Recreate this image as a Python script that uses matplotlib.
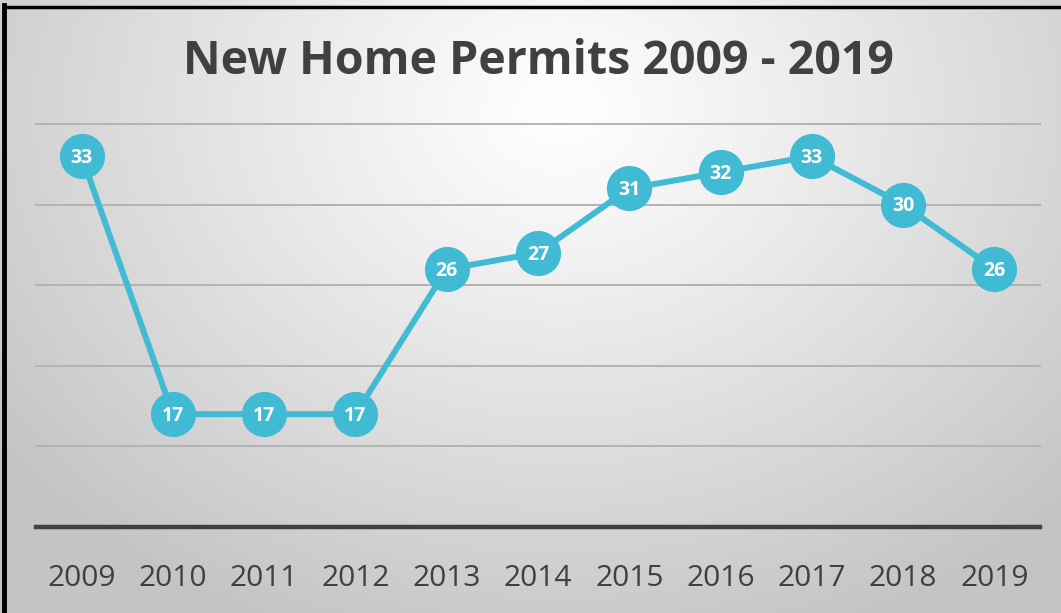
import numpy as np
import matplotlib
matplotlib.use("Agg")
import matplotlib.pyplot as plt
from matplotlib.lines import Line2D

years = ["2009", "2010", "2011", "2012", "2013", "2014", "2015", "2016", "2017", "2018", "2019"]
permits = [33, 17, 17, 17, 26, 27, 31, 32, 33, 30, 26]
title = "New Home Permits 2009 - 2019"

W, H = 1061, 613
fig = plt.figure(figsize=(W / 100, H / 100), dpi=100)

# background radial gradient
bg = fig.add_axes([0, 0, 1, 1], zorder=-10)
yy, xx = np.mgrid[0:H, 0:W]
cx, cy = 560, 110
r = np.sqrt(((xx - cx) / 700.0) ** 2 + ((yy - cy) / 560.0) ** 2)
r = np.clip(r, 0, 1)
val = 1.0 - 0.23 * r ** 1.1
img = np.dstack([val, val, val])
bg.imshow(img, aspect="auto", extent=[0, W, H, 0])
bg.set_xlim(0, W)
bg.set_ylim(H, 0)
bg.axis("off")

# border
fig.add_artist(Line2D([4 / W, 4 / W], [0, 1 - 5 / H], transform=fig.transFigure, color="black", lw=3.5))
fig.add_artist(Line2D([4 / W, 1], [1 - 6.5 / H, 1 - 6.5 / H], transform=fig.transFigure, color="black", lw=2.5))

left, right = 36 / W, 1040 / W
bottom, top = (H - 527) / H, (H - 124) / H
ax = fig.add_axes([left, bottom, right - left, top - bottom])
ax.patch.set_alpha(0)

x = np.arange(len(years))
ax.set_xlim(-0.5, len(years) - 0.5)
ax.set_ylim(10, 35)
for g in [15, 20, 25, 30, 35]:
    ax.axhline(g, color="#b3b3b3", lw=1.4, zorder=1, clip_on=False)
ax.axhline(10, color="#404040", lw=3.2, zorder=2, clip_on=False)

ax.plot(x, permits, color="#41BAD3", lw=4.3, marker="o", markersize=31.5,
        markerfacecolor="#41BAD3", markeredgecolor="#41BAD3", zorder=3, clip_on=False)
for xi, v in zip(x, permits):
    ax.text(xi, v - 0.1, str(v), color="white", fontsize=14, fontweight="bold",
            ha="center", va="center", family="Open Sans", zorder=4)

for s in ax.spines.values():
    s.set_visible(False)
ax.set_yticks([])
ax.set_xticks(x)
ax.set_xticklabels(years, fontsize=21.5, color="#404040", family="Open Sans")
ax.tick_params(axis="x", length=0, pad=27)

fig.text(538 / W, 1 - 62 / H, title, ha="center", va="center", fontsize=33.5,
         fontweight="bold", color="#404040", family="Open Sans")

fig.savefig("out.png", dpi=100)
